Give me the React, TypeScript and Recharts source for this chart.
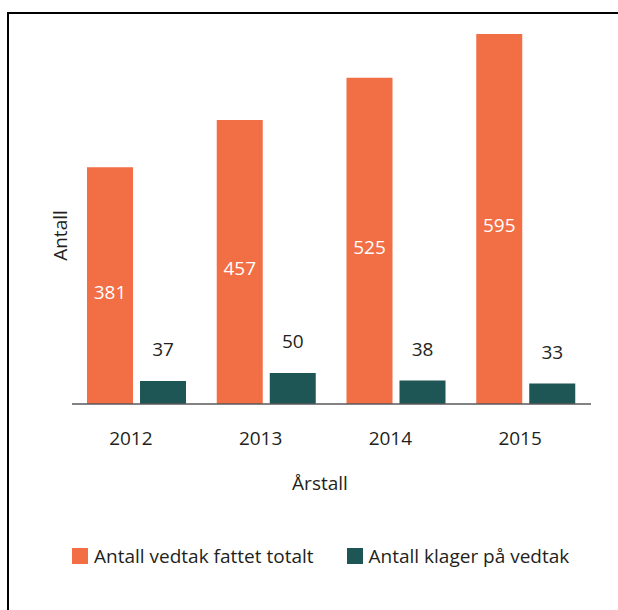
import React from "react";
import { BarChart, Bar, XAxis, YAxis, Legend, LabelList, Label } from "recharts";

const years = ["2012", "2013", "2014", "2015"];
const vedtakTotalt = [381, 457, 525, 595];
const klagerPaVedtak = [37, 50, 38, 33];
const seriesNames = ["Antall vedtak fattet totalt", "Antall klager på vedtak"];

const ORANGE = "#f26e45";
const GREEN = "#1d5654";
const TEXT = "#231f20";
const FONT = "'Open Sans', sans-serif";

const chartData = years.map((year, i) => ({
  year,
  totalt: vedtakTotalt[i],
  klager: klagerPaVedtak[i],
}));

// tall midt i den oransje søylen
function InsideLabel(props: any) {
  const { x, y, width, height, value } = props;
  return (
    <text x={x + width / 2} y={y + height / 2 + 13} textAnchor="middle" fill="#fff" fontSize={19}>
      {value}
    </text>
  );
}

// tall over den grønne søylen
function TopLabel(props: any) {
  const { x, y, width, value } = props;
  return (
    <text x={x + width / 2} y={y - 24.5} textAnchor="middle" fill={TEXT} fontSize={19}>
      {value}
    </text>
  );
}

function YearTick(props: any) {
  const { x, y, payload } = props;
  return (
    <text x={x - 6} y={y + 39} textAnchor="middle" fill={TEXT} fontSize={19}>
      {payload.value}
    </text>
  );
}

function LegendContent(props: any) {
  // behold rekkefølgen til seriene, ikke alfabetisk
  const payload = [...(props.payload ?? [])].sort(
    (a: any, b: any) => seriesNames.indexOf(a.value) - seriesNames.indexOf(b.value)
  );
  return (
    <div
      style={{
        display: "flex",
        alignItems: "center",
        height: 24,
        lineHeight: "24px",
        paddingLeft: 72,
        fontSize: 19,
        color: TEXT,
      }}
    >
      {payload.map((entry: any) => (
        <div key={entry.value} style={{ display: "flex", alignItems: "center", marginRight: 33 }}>
          <span style={{ width: 16, height: 16, background: entry.color, marginRight: 6 }} />
          <span>{entry.value}</span>
        </div>
      ))}
    </div>
  );
}

export default function App() {
  return (
    <div style={{ position: "absolute", left: 0, top: 0, width: 618, height: 610, overflow: "hidden", background: "#fff", fontFamily: FONT }}>
      <div
        style={{
          position: "absolute",
          left: 7,
          top: 12,
          width: 700,
          height: 700,
          borderLeft: "2px solid #000",
          borderTop: "2px solid #000",
        }}
      />
      <div style={{ position: "absolute", left: 0, top: 0 }}>
        <BarChart
          width={618}
          height={610}
          data={chartData}
          margin={{ top: 31, right: 27, left: 0, bottom: 82 }}
          barSize={46}
          barGap={7}
        >
          <XAxis
            dataKey="year"
            height={100}
            tickLine={false}
            tickSize={0}
            tick={YearTick}
            axisLine={{ stroke: "#58595b", strokeWidth: 1.5 }}
          >
            <Label
              content={(p: any) => {
                const vb = p.viewBox;
                return (
                  <text x={vb.x + vb.width / 2 - 11.5} y={vb.y + 86} textAnchor="middle" fill={TEXT} fontSize={19}>
                    Årstall
                  </text>
                );
              }}
            />
          </XAxis>
          <YAxis width={72} domain={[0, 600]} tick={false} tickLine={false} axisLine={false}>
            <Label
              content={(p: any) => {
                const vb = p.viewBox;
                const cx = vb.x + vb.width - 5.5;
                const cy = vb.y + vb.height / 2 + 18;
                return (
                  <text x={cx} y={cy} transform={`rotate(-90, ${cx}, ${cy})`} textAnchor="middle" fill={TEXT} fontSize={19}>
                    Antall
                  </text>
                );
              }}
            />
          </YAxis>
          <Legend
            verticalAlign="bottom"
            content={LegendContent}
            wrapperStyle={{ left: 0, top: 544, bottom: "auto", width: 618 }}
          />
          <Bar dataKey="totalt" name={seriesNames[0]} fill={ORANGE} isAnimationActive={false}>
            <LabelList dataKey="totalt" content={InsideLabel} />
          </Bar>
          <Bar dataKey="klager" name={seriesNames[1]} fill={GREEN} isAnimationActive={false}>
            <LabelList dataKey="klager" content={TopLabel} />
          </Bar>
        </BarChart>
      </div>
    </div>
  );
}
